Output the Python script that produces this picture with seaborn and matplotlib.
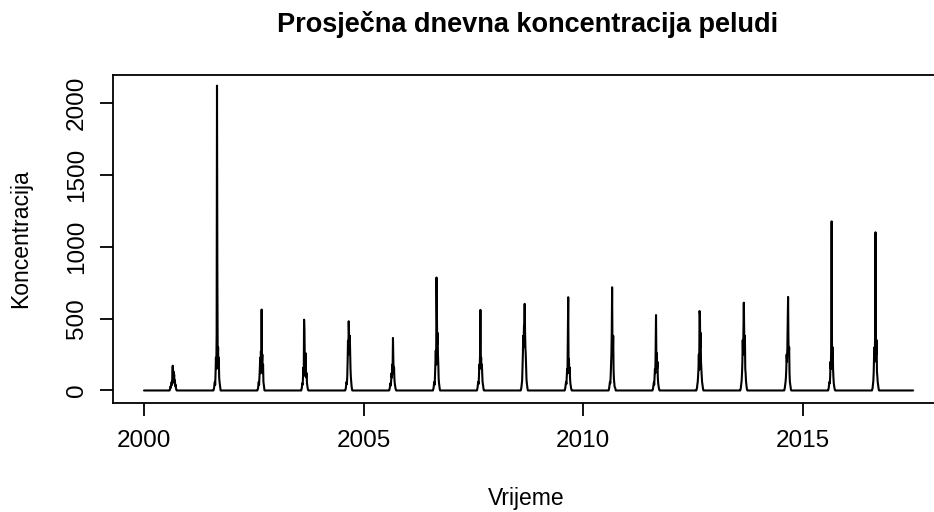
"""
Prosjecna dnevna koncentracija peludi - R base-plot look with seaborn
"""

import numpy as np
import pandas as pd
import matplotlib
matplotlib.use("Agg")
import matplotlib.pyplot as plt
import seaborn as sns

# season values: one value every 3 days from day 212 of each year
season_start_day = 212
season_step_days = 3
series_start = 2000.0
series_end = 2017.52

years = list(range(2000, 2017))
season_2000 = [0, 5, 15, 30, 20, 45, 60, 40, 100, 172, 60, 133, 90, 110, 50, 70, 30, 40, 15, 5, 0]
season_2001 = [0, 8, 20, 45, 60, 40, 120, 228, 150, 388, 2118, 806, 200, 300, 150, 228, 90, 60, 40, 15, 0]
season_2002 = [0, 5, 15, 35, 60, 40, 90, 150, 228, 120, 272, 180, 562, 200, 250, 120, 180, 60, 40, 15, 0]
season_2003 = [0, 8, 25, 50, 40, 90, 158, 100, 492, 411, 213, 120, 260, 158, 90, 120, 50, 30, 15, 5, 0]
season_2004 = [0, 5, 15, 35, 60, 45, 100, 200, 346, 250, 481, 400, 300, 380, 250, 150, 90, 60, 30, 10, 0]
season_2005 = [0, 5, 15, 30, 50, 35, 70, 120, 90, 180, 150, 365, 218, 120, 160, 80, 50, 30, 15, 5, 0]
season_2006 = [0, 8, 20, 45, 60, 40, 120, 200, 278, 180, 785, 563, 320, 400, 250, 180, 80, 50, 30, 10, 0]
season_2007 = [0, 5, 20, 40, 60, 45, 100, 180, 150, 248, 560, 180, 230, 160, 180, 120, 60, 40, 20, 5, 0]
season_2008 = [0, 8, 25, 50, 70, 150, 250, 380, 300, 443, 465, 602, 420, 300, 250, 150, 80, 50, 30, 10, 0]
season_2009 = [0, 5, 20, 40, 60, 45, 100, 150, 120, 393, 648, 180, 220, 120, 160, 90, 50, 30, 15, 5, 0]
season_2010 = [0, 5, 20, 40, 60, 50, 100, 180, 250, 404, 717, 300, 250, 380, 150, 80, 50, 25, 20, 15, 0]
season_2011 = [0, 5, 20, 40, 55, 40, 90, 150, 120, 284, 524, 213, 260, 150, 200, 90, 50, 30, 15, 5, 0]
season_2012 = [0, 8, 20, 45, 60, 100, 150, 250, 145, 552, 525, 300, 400, 200, 145, 100, 60, 40, 20, 5, 0]
season_2013 = [0, 8, 25, 50, 70, 120, 200, 350, 250, 450, 610, 418, 300, 380, 150, 120, 67, 40, 20, 5, 0]
season_2014 = [0, 5, 20, 40, 60, 90, 150, 250, 200, 300, 465, 650, 347, 250, 300, 120, 60, 40, 20, 5, 0]
season_2015 = [0, 5, 20, 40, 60, 50, 100, 200, 150, 365, 1175, 327, 200, 300, 150, 90, 50, 30, 15, 5, 0]
season_2016 = [0, 8, 20, 45, 70, 130, 250, 300, 200, 455, 1099, 386, 250, 350, 130, 100, 60, 40, 20, 5, 0]

seasons = [season_2000, season_2001, season_2002, season_2003, season_2004, season_2005,
           season_2006, season_2007, season_2008, season_2009, season_2010, season_2011,
           season_2012, season_2013, season_2014, season_2015, season_2016]

y_ticks = [0, 500, 1000, 1500, 2000]
x_ticks = [2000, 2005, 2010, 2015]

title = "Prosječna dnevna koncentracija peludi"
x_label = "Vrijeme"
y_label = "Koncentracija"

# build the time series (decimal years, like an R ts object)
rows = [(series_start, 0)]
for year, values in zip(years, seasons):
    for i, v in enumerate(values):
        day = season_start_day + i * season_step_days
        rows.append((year + day / 365.0, v))
rows.append((series_end, 0))
df = pd.DataFrame(rows, columns=["vrijeme", "koncentracija"])

sns.set_style("ticks")
plt.rcParams["font.family"] = ["Liberation Sans", "DejaVu Sans"]
plt.rcParams["text.color"] = "black"

W, H = 934, 512
fig = plt.figure(figsize=(W / 100, H / 100), dpi=100)
# plot region in pixels: left 113, right 943 (cut by the image edge), top 75, bottom 403
ax = fig.add_axes([113 / W, (H - 403) / H, 830 / W, 328 / H])

sns.lineplot(data=df, x="vrijeme", y="koncentracija", color="black",
             linewidth=1.5, estimator=None, sort=True, ax=ax)

ax.set_xlim(1999.294, 2018.2)
ax.set_ylim(-87, 2192)
ax.set_xticks(x_ticks)
ax.set_yticks(y_ticks)
ax.set_xticklabels([str(t) for t in x_ticks])
ax.set_yticklabels([str(t) for t in y_ticks])

for side in ["left", "right", "top", "bottom"]:
    ax.spines[side].set_visible(True)
    ax.spines[side].set_color("black")
    ax.spines[side].set_linewidth(1.3)

ax.tick_params(axis="both", direction="out", length=9.4, width=1.3,
               color="black", labelsize=17.5, labelcolor="black")
ax.tick_params(axis="x", pad=10)
ax.tick_params(axis="y", pad=8.5, labelrotation=90)
for lab in ax.get_yticklabels():
    lab.set_va("center")

ax.set_xlabel(x_label, fontsize=16.5, color="black")
ax.xaxis.set_label_coords(0.4976, -0.255)
ax.set_ylabel(y_label, fontsize=16.5, color="black")
ax.yaxis.set_label_coords(-0.097, 0.5)
ax.set_title(title, fontsize=19.5, fontweight="bold", color="black", pad=0, y=1.13)

fig.savefig("out.png", dpi=100)
